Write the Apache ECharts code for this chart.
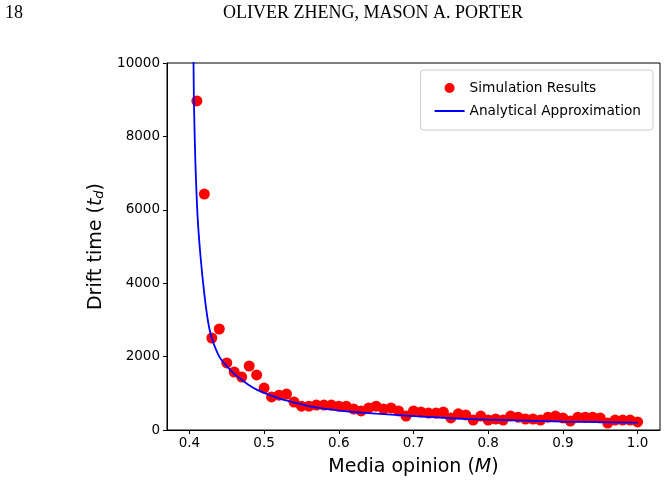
<!DOCTYPE html>
<html><head><meta charset="utf-8">
<script src="https://cdn.jsdelivr.net/npm/echarts@6/dist/echarts.min.js"></script>
<style>html,body{margin:0;padding:0;background:#fff}#c{width:667px;height:486px}</style>
</head><body><div id="c"></div>
<script>
var simM = [0.41,0.42,0.43,0.44,0.45,0.46,0.47,0.48,0.49,0.50,0.51,0.52,0.53,0.54,0.55,0.56,0.57,0.58,0.59,0.60,
  0.61,0.62,0.63,0.64,0.65,0.66,0.67,0.68,0.69,0.70,0.71,0.72,0.73,0.74,0.75,0.76,0.77,0.78,0.79,0.80,
  0.81,0.82,0.83,0.84,0.85,0.86,0.87,0.88,0.89,0.90,0.91,0.92,0.93,0.94,0.95,0.96,0.97,0.98,0.99,1.00];
var simT = [8965,6430,2507,2752,1826,1580,1444,1744,1500,1144,900,950,980,763,650,650,680,680,680,650,
  650,570,520,600,650,570,600,520,380,520,490,460,460,490,330,440,410,270,380,270,
  300,270,380,350,300,300,270,350,380,330,245,350,350,350,330,190,270,270,270,220];
var apxM = [0.404,0.4055,0.406,0.408,0.411,0.415,0.42,0.425,0.43,0.44,0.45,0.46,0.47,0.48,0.49,0.50,
  0.52,0.54,0.56,0.58,0.60,0.62,0.65,0.70,0.75,0.80,0.85,0.90,0.95,1.00];
var apxT = [11500,10000,9000,7300,5800,4700,3700,2950,2500,2000,1740,1530,1370,1220,1100,1010,
  860,750,650,580,530,490,445,380,320,280,255,230,215,200];
var xTicks = [0.4,0.5,0.6,0.7,0.8,0.9,1.0];
var yTicks = [0,2000,4000,6000,8000,10000];

var chart = echarts.init(document.getElementById('c'), null, {renderer:'canvas'});
var font = 'DejaVu Sans';
chart.setOption({
  animation:false,
  backgroundColor:'#fff',
  graphic:[
    {type:'text', left:5, top:4, style:{text:'18', font:'18px "Liberation Serif"', fill:'#000'}},
    {type:'text', x:373, y:4, style:{text:'OLIVER ZHENG, MASON A. PORTER', font:'18px "Liberation Serif"', fill:'#000', textAlign:'center'}}
  ],
  grid:{left:167, right:7, top:63, bottom:56, show:true, borderColor:'#000', borderWidth:1, backgroundColor:'transparent'},
  legend:{
    right:14, top:70, orient:'vertical', itemGap:9,
    backgroundColor:'#fff', borderColor:'#ccc', borderWidth:1, borderRadius:3, padding:[11,12,12,14],
    textStyle:{fontFamily:font, fontSize:13.7, color:'#000'},
    itemWidth:30, itemHeight:10,
    data:[{name:'Simulation Results', icon:'circle'},
          {name:'Analytical Approximation', icon:'path://M0,0 L30,0 L30,2 L0,2 Z', itemHeight:2}]
  },
  xAxis:{
    type:'value', min:0.37, max:1.03,
    name:'{n|Media opinion (}{i|M}{n|)}', nameLocation:'middle', nameGap:28,
    nameTextStyle:{rich:{n:{fontFamily:font, fontSize:19, color:'#000'}, i:{fontFamily:font, fontSize:19, fontStyle:'italic', color:'#000'}}},
    axisLine:{show:true, onZero:false, lineStyle:{color:'#000', width:1}},
    axisTick:{show:true, inside:false, length:4, customValues:xTicks, lineStyle:{color:'#000'}},
    axisLabel:{customValues:xTicks, fontFamily:font, fontSize:13.5, color:'#000', margin:6, formatter:function(v){return v.toFixed(1);}},
    splitLine:{show:false}
  },
  yAxis:{
    type:'value', min:0, max:10000, interval:2000,
    name:'{n|Drift time (}{i|t}{s|d}{n|)}', nameLocation:'middle', nameGap:54, nameRotate:90,
    nameTextStyle:{rich:{n:{fontFamily:font, fontSize:19, color:'#000'}, i:{fontFamily:font, fontSize:19, fontStyle:'italic', color:'#000'}, s:{fontFamily:font, fontSize:13, fontStyle:'italic', color:'#000', verticalAlign:'bottom', padding:[7,0,0,0]}}},
    axisLine:{show:true, lineStyle:{color:'#000', width:1}},
    axisTick:{show:true, inside:false, length:4, lineStyle:{color:'#000'}},
    axisLabel:{fontFamily:font, fontSize:13.5, color:'#000', margin:7, formatter:function(v){return String(v);}},
    splitLine:{show:false}
  },
  series:[
    {name:'Simulation Results', type:'scatter', symbolSize:11, itemStyle:{color:'#ff0000', opacity:1},
     data: simM.map(function(m,i){return [m, simT[i]];}), z:2},
    {name:'Analytical Approximation', type:'line', symbol:'none', smooth:0.3, clip:true,
     lineStyle:{color:'#0000ff', width:1.8}, itemStyle:{color:'#0000ff'},
     data: apxM.map(function(m,i){return [m, apxT[i]];}), z:3}
  ]
});
</script></body></html>
